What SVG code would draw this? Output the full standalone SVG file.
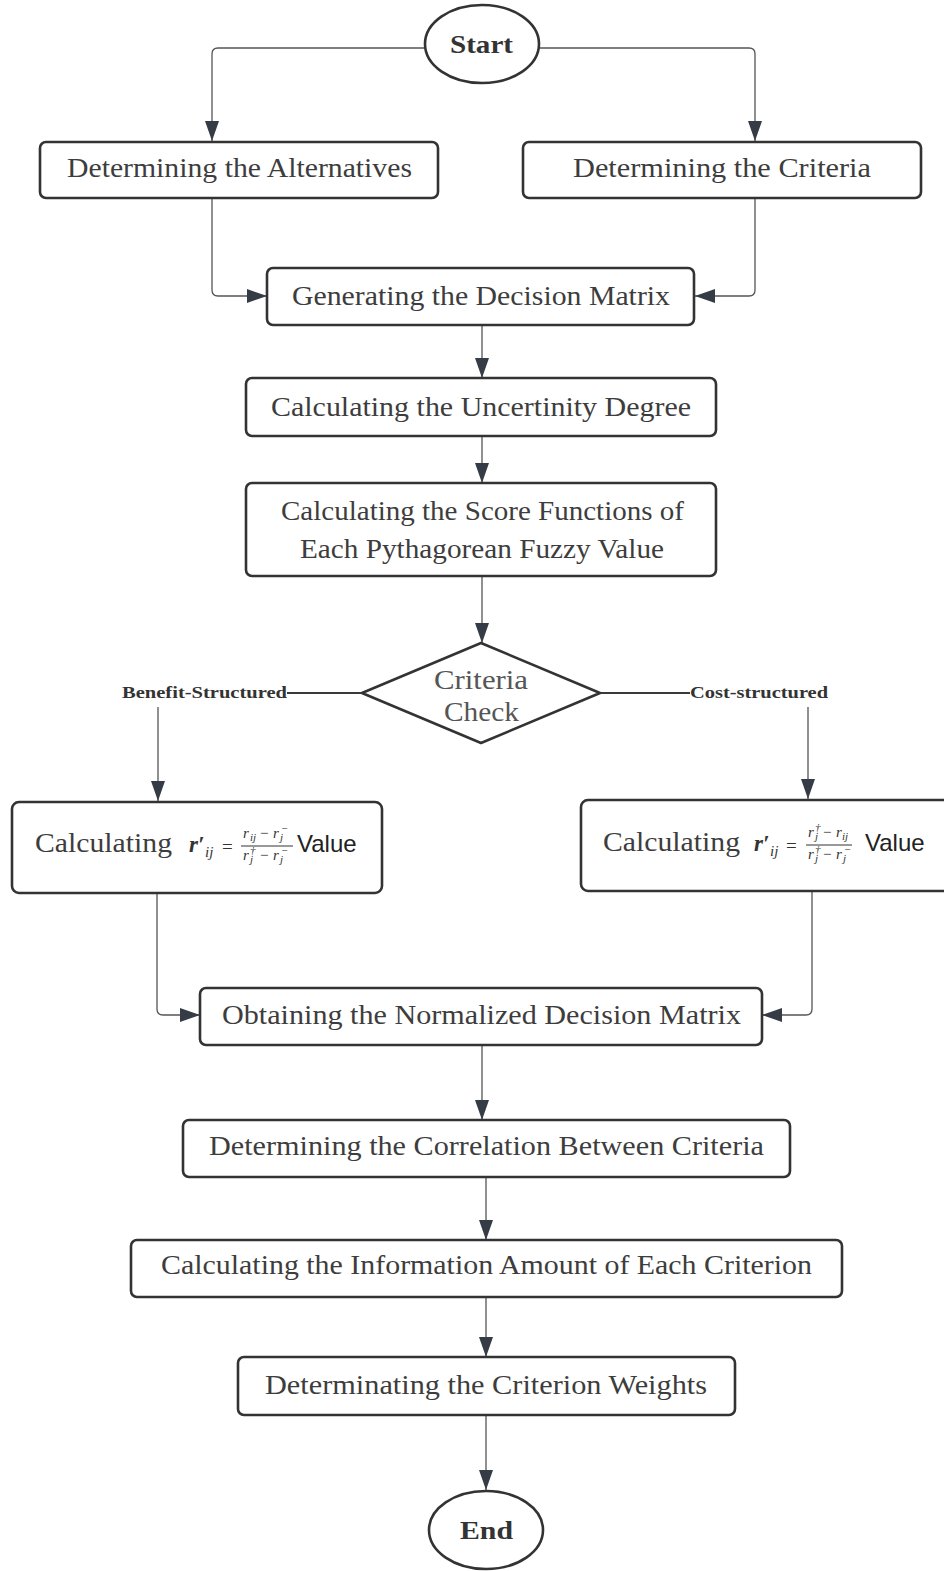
<svg xmlns="http://www.w3.org/2000/svg" width="944" height="1571" viewBox="0 0 944 1571">
<defs>
<marker id="arr" markerUnits="userSpaceOnUse" markerWidth="21" markerHeight="15" refX="20" refY="7" orient="auto">
<path d="M0,0 L20,7 L0,14 z" fill="#363c45"/>
</marker>
<style>
.box{fill:#fff;stroke:#333;stroke-width:2.6}
.t{font-family:"Liberation Serif",serif;font-size:27px;fill:#3d3d3d}
.b{font-family:"Liberation Serif",serif;font-weight:bold;fill:#333}
.c{fill:none;stroke:#555;stroke-width:1.3}
.c2{fill:none;stroke:#3a3a3a;stroke-width:2}
.m{font-family:"Liberation Serif",serif;font-style:italic;fill:#333;font-size:15px}
.s{font-family:"Liberation Serif",serif;font-style:italic;fill:#333;font-size:11px}
.o{font-family:"Liberation Serif",serif;fill:#333;font-size:15px}
.v{font-family:"Liberation Sans",sans-serif;font-size:24px;fill:#222}
</style>
</defs>
<rect width="944" height="1571" fill="#fff"/>
<g id="connectors">
<path class="c" d="M424,48 H218 Q212,48 212,54 V141" marker-end="url(#arr)"/>
<path class="c" d="M540,48 H749 Q755,48 755,54 V141" marker-end="url(#arr)"/>
<path class="c" d="M212,199 V290 Q212,296 218,296 H267" marker-end="url(#arr)"/>
<path class="c" d="M755,199 V290 Q755,296 749,296 H695" marker-end="url(#arr)"/>
<path class="c" d="M482,325 V378" marker-end="url(#arr)"/>
<path class="c" d="M482,436 V483" marker-end="url(#arr)"/>
<path class="c" d="M482,576 V643" marker-end="url(#arr)"/>
<path class="c2" d="M362,693 H287"/>
<path class="c2" d="M600,693 H690"/>
<path class="c" d="M158,707 V801" marker-end="url(#arr)"/>
<path class="c" d="M808,707 V799" marker-end="url(#arr)"/>
<path class="c" d="M157,893 V1009 Q157,1015 163,1015 H200" marker-end="url(#arr)"/>
<path class="c" d="M812,891 V1009 Q812,1015 806,1015 H762" marker-end="url(#arr)"/>
<path class="c" d="M482,1045 V1120" marker-end="url(#arr)"/>
<path class="c" d="M486,1177 V1240" marker-end="url(#arr)"/>
<path class="c" d="M486,1297 V1357" marker-end="url(#arr)"/>
<path class="c" d="M486,1415 V1490" marker-end="url(#arr)"/>
</g>
<g id="start">
<ellipse class="box" cx="482" cy="44" rx="57" ry="39"/>
<text class="b" x="450" y="53" font-size="26" textLength="63" lengthAdjust="spacingAndGlyphs">Start</text>
</g>
<g id="alternatives">
<rect class="box" x="40" y="142" width="398" height="56" rx="6"/>
<text class="t" x="67" y="177" textLength="345" lengthAdjust="spacingAndGlyphs">Determining the Alternatives</text>
</g>
<g id="criteria">
<rect class="box" x="523" y="142" width="398" height="56" rx="6"/>
<text class="t" x="573" y="177" textLength="298" lengthAdjust="spacingAndGlyphs">Determining the Criteria</text>
</g>
<g id="generating">
<rect class="box" x="267" y="268" width="427" height="57" rx="6"/>
<text class="t" x="292" y="305" textLength="378" lengthAdjust="spacingAndGlyphs">Generating the Decision Matrix</text>
</g>
<g id="uncertainty">
<rect class="box" x="246" y="378" width="470" height="58" rx="6"/>
<text class="t" x="271" y="416" textLength="420" lengthAdjust="spacingAndGlyphs">Calculating the Uncertinity Degree</text>
</g>
<g id="score">
<rect class="box" x="246" y="483" width="470" height="93" rx="6"/>
<text class="t" x="281" y="520" textLength="403" lengthAdjust="spacingAndGlyphs">Calculating the Score Functions of</text>
<text class="t" x="300" y="558" textLength="364" lengthAdjust="spacingAndGlyphs">Each Pythagorean Fuzzy Value</text>
</g>
<g id="check">
<path class="box" d="M362,693 L481,643 L600,693 L481,743 Z" stroke-linejoin="round"/>
<text class="t" x="434" y="689" style="fill:#555" textLength="94" lengthAdjust="spacingAndGlyphs">Criteria</text>
<text class="t" x="444" y="721" style="fill:#555" textLength="75" lengthAdjust="spacingAndGlyphs">Check</text>
<text class="b" x="122" y="698" font-size="16" textLength="165" lengthAdjust="spacingAndGlyphs">Benefit-Structured</text>
<text class="b" x="690" y="698" font-size="16" textLength="138" lengthAdjust="spacingAndGlyphs">Cost-structured</text>
</g>
<g id="benefit">
<rect class="box" x="12" y="802" width="370" height="91" rx="7"/>
<text class="t" x="35" y="852" textLength="137" lengthAdjust="spacingAndGlyphs">Calculating</text>
<text class="m" x="189" y="852" style="font-size:23px;font-weight:bold">r′</text>
<text class="m" x="205" y="857">ij</text>
<text class="o" x="222" y="853" style="font-size:19px">=</text>
<line x1="241" y1="846" x2="293" y2="846" stroke="#333" stroke-width="1"/>
<text class="m" x="243" y="838">r</text>
<text class="s" x="250" y="841">ij</text>
<text class="o" x="260" y="838">−</text>
<text class="m" x="273" y="838">r</text>
<text class="s" x="280" y="841">j</text>
<text class="s" x="281" y="832">−</text>
<text class="m" x="243" y="860">r</text>
<text class="s" x="250" y="863">j</text>
<text class="s" x="250" y="854">†</text>
<text class="o" x="260" y="860">−</text>
<text class="m" x="273" y="860">r</text>
<text class="s" x="280" y="863">j</text>
<text class="s" x="281" y="854">−</text>
<text class="v" x="297" y="852">Value</text>
</g>
<g id="cost">
<rect class="box" x="581" y="800" width="372" height="91" rx="7"/>
<text class="t" x="603" y="851" textLength="137" lengthAdjust="spacingAndGlyphs">Calculating</text>
<text class="m" x="754" y="851" style="font-size:23px;font-weight:bold">r′</text>
<text class="m" x="770" y="856">ij</text>
<text class="o" x="786" y="852" style="font-size:19px">=</text>
<line x1="806" y1="845" x2="852" y2="845" stroke="#333" stroke-width="1"/>
<text class="m" x="808" y="837">r</text>
<text class="s" x="815" y="840">j</text>
<text class="s" x="815" y="831">†</text>
<text class="o" x="823" y="837">−</text>
<text class="m" x="836" y="837">r</text>
<text class="s" x="842" y="840">ij</text>
<text class="m" x="808" y="859">r</text>
<text class="s" x="815" y="862">j</text>
<text class="s" x="815" y="853">†</text>
<text class="o" x="823" y="859">−</text>
<text class="m" x="836" y="859">r</text>
<text class="s" x="843" y="862">j</text>
<text class="s" x="844" y="853">−</text>
<text class="v" x="865" y="851">Value</text>
</g>
<g id="normalized">
<rect class="box" x="200" y="988" width="562" height="57" rx="6"/>
<text class="t" x="222" y="1024" textLength="519" lengthAdjust="spacingAndGlyphs">Obtaining the Normalized Decision Matrix</text>
</g>
<g id="correlation">
<rect class="box" x="183" y="1120" width="607" height="57" rx="6"/>
<text class="t" x="209" y="1155" textLength="555" lengthAdjust="spacingAndGlyphs">Determining the Correlation Between Criteria</text>
</g>
<g id="information">
<rect class="box" x="131" y="1240" width="711" height="57" rx="6"/>
<text class="t" x="161" y="1274" textLength="651" lengthAdjust="spacingAndGlyphs">Calculating the Information Amount of Each Criterion</text>
</g>
<g id="weights">
<rect class="box" x="238" y="1357" width="497" height="58" rx="6"/>
<text class="t" x="265" y="1394" textLength="442" lengthAdjust="spacingAndGlyphs">Determinating the Criterion Weights</text>
</g>
<g id="end">
<ellipse class="box" cx="486" cy="1530" rx="57" ry="39"/>
<text class="b" x="460" y="1539" font-size="26" textLength="53" lengthAdjust="spacingAndGlyphs">End</text>
</g>
</svg>
